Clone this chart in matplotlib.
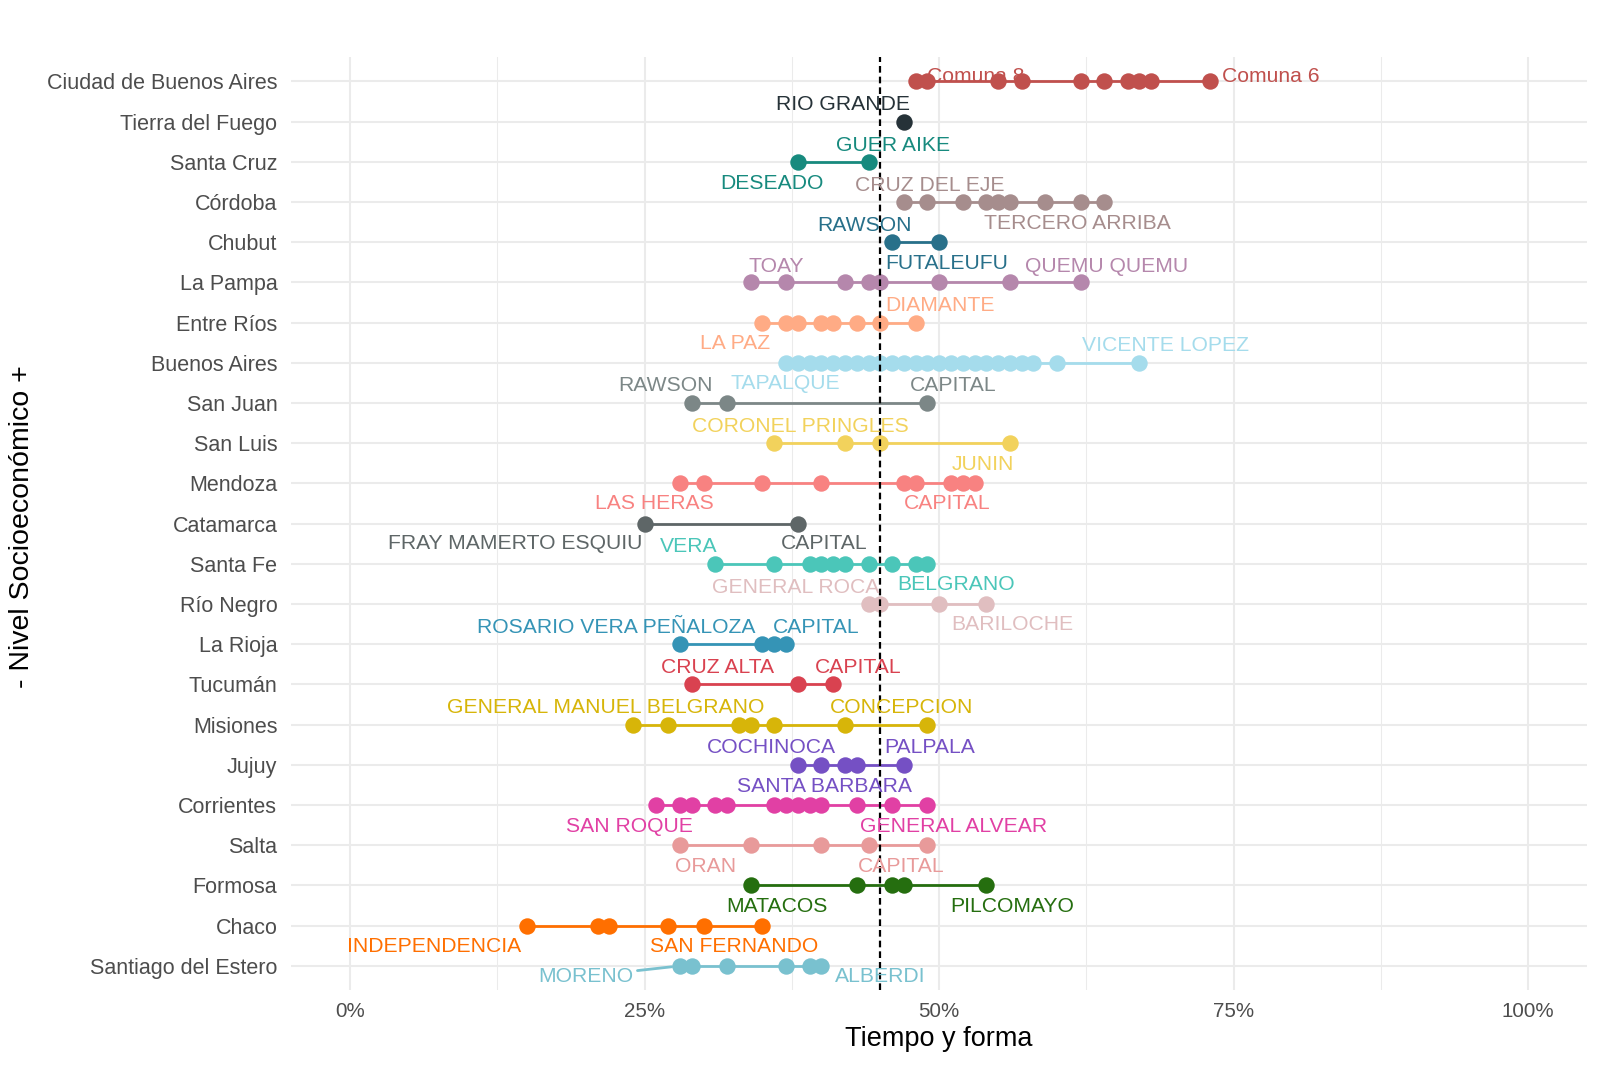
import matplotlib
matplotlib.use("Agg")
import matplotlib.pyplot as plt
from matplotlib.ticker import FixedLocator, PercentFormatter

plt.rcParams['font.family'] = ['Liberation Sans', 'DejaVu Sans']

# provincias, de mayor a menor nivel socioeconomico
provincias = ["Ciudad de Buenos Aires", "Tierra del Fuego", "Santa Cruz", "Córdoba",
              "Chubut", "La Pampa", "Entre Ríos", "Buenos Aires", "San Juan",
              "San Luis", "Mendoza", "Catamarca", "Santa Fe", "Río Negro",
              "La Rioja", "Tucumán", "Misiones", "Jujuy", "Corrientes", "Salta",
              "Formosa", "Chaco", "Santiago del Estero"]

colores = ["#C0504D", "#263238", "#178A7E", "#A68D8D", "#28708A", "#B587AC",
           "#FFAB85", "#A5DCEC", "#7C8787", "#F2D25C", "#F88281", "#5E6667",
           "#4BC6B9", "#E0BEC0", "#3594B6", "#D94250", "#D7B509", "#7550C4",
           "#E140A4", "#E89A9A", "#256E0F", "#FF6F00", "#79C1CF"]

# proporcion "tiempo y forma" por departamento
caba = [0.48, 0.49, 0.55, 0.57, 0.62, 0.64, 0.66, 0.67, 0.68, 0.73]
tierra_del_fuego = [0.47]
santa_cruz = [0.38, 0.44]
cordoba = [0.47, 0.49, 0.52, 0.54, 0.55, 0.56, 0.59, 0.62, 0.64]
chubut = [0.46, 0.50]
la_pampa = [0.34, 0.37, 0.42, 0.44, 0.45, 0.50, 0.56, 0.62]
entre_rios = [0.35, 0.37, 0.38, 0.40, 0.41, 0.43, 0.45, 0.48]
buenos_aires = [0.37, 0.38, 0.39, 0.40, 0.41, 0.42, 0.43, 0.44, 0.45, 0.46, 0.47,
                0.48, 0.49, 0.50, 0.51, 0.52, 0.53, 0.54, 0.55, 0.56, 0.57, 0.58,
                0.60, 0.67]
san_juan = [0.29, 0.32, 0.49]
san_luis = [0.36, 0.42, 0.45, 0.56]
mendoza = [0.28, 0.30, 0.35, 0.40, 0.47, 0.48, 0.51, 0.52, 0.53]
catamarca = [0.25, 0.38]
santa_fe = [0.31, 0.36, 0.39, 0.40, 0.41, 0.42, 0.44, 0.46, 0.48, 0.49]
rio_negro = [0.44, 0.45, 0.50, 0.54]
la_rioja = [0.28, 0.35, 0.36, 0.37]
tucuman = [0.29, 0.38, 0.41]
misiones = [0.24, 0.27, 0.33, 0.34, 0.36, 0.42, 0.49]
jujuy = [0.38, 0.40, 0.42, 0.43, 0.47]
corrientes = [0.26, 0.28, 0.29, 0.31, 0.32, 0.36, 0.37, 0.38, 0.39, 0.40, 0.43,
              0.46, 0.49]
salta = [0.28, 0.34, 0.40, 0.44, 0.49]
formosa = [0.34, 0.43, 0.46, 0.47, 0.54]
chaco = [0.15, 0.21, 0.22, 0.27, 0.30, 0.35]
santiago = [0.28, 0.29, 0.32, 0.37, 0.39, 0.40]

valores = [caba, tierra_del_fuego, santa_cruz, cordoba, chubut, la_pampa,
           entre_rios, buenos_aires, san_juan, san_luis, mendoza, catamarca,
           santa_fe, rio_negro, la_rioja, tucuman, misiones, jujuy, corrientes,
           salta, formosa, chaco, santiago]

promedio = 0.45

# etiquetas de departamentos: texto, provincia, x del texto, desplazamiento vertical
etiquetas = [
    ("Comuna 8", 0, 0.531, -0.18), ("Comuna 6", 0, 0.781, -0.18),
    ("RIO GRANDE", 1, 0.418, -0.47),
    ("GUER AIKE", 2, 0.461, -0.45), ("DESEADO", 2, 0.358, 0.49),
    ("CRUZ DEL EJE", 3, 0.492, -0.46), ("TERCERO ARRIBA", 3, 0.617, 0.48),
    ("RAWSON", 4, 0.437, -0.47), ("FUTALEUFU", 4, 0.506, 0.49),
    ("TOAY", 5, 0.362, -0.45), ("QUEMU QUEMU", 5, 0.642, -0.45),
    ("DIAMANTE", 6, 0.501, -0.47), ("LA PAZ", 6, 0.327, 0.47),
    ("VICENTE LOPEZ", 7, 0.692, -0.48), ("TAPALQUE", 7, 0.369, 0.46),
    ("RAWSON", 8, 0.268, -0.49), ("CAPITAL", 8, 0.512, -0.49),
    ("CORONEL PRINGLES", 9, 0.382, -0.47), ("JUNIN", 9, 0.537, 0.47),
    ("LAS HERAS", 10, 0.258, 0.46), ("CAPITAL", 10, 0.507, 0.46),
    ("FRAY MAMERTO ESQUIU", 11, 0.140, 0.45), ("CAPITAL", 11, 0.402, 0.45),
    ("VERA", 12, 0.287, -0.48), ("BELGRANO", 12, 0.514, 0.46),
    ("GENERAL ROCA", 13, 0.378, -0.46), ("BARILOCHE", 13, 0.562, 0.45),
    ("ROSARIO VERA PEÑALOZA", 14, 0.226, -0.47), ("CAPITAL", 14, 0.396, -0.47),
    ("CRUZ ALTA", 15, 0.312, -0.48), ("CAPITAL", 15, 0.431, -0.48),
    ("GENERAL MANUEL BELGRANO", 16, 0.217, -0.47), ("CONCEPCION", 16, 0.468, -0.47),
    ("COCHINOCA", 17, 0.358, -0.48), ("PALPALA", 17, 0.492, -0.48),
    ("SANTA BARBARA", 17, 0.403, 0.49),
    ("SAN ROQUE", 18, 0.237, 0.48), ("GENERAL ALVEAR", 18, 0.512, 0.48),
    ("ORAN", 19, 0.302, 0.49), ("CAPITAL", 19, 0.468, 0.49),
    ("MATACOS", 20, 0.362, 0.48), ("PILCOMAYO", 20, 0.562, 0.48),
    ("INDEPENDENCIA", 21, 0.071, 0.47), ("SAN FERNANDO", 21, 0.326, 0.47),
    ("ALBERDI", 22, 0.450, 0.21),
]

fig = plt.figure(figsize=(16, 10.66), dpi=100)
ax = fig.add_axes([0.182, 0.0713, 0.810, 0.875])

ax.set_xlim(-0.05, 1.05)
ax.set_ylim(len(provincias) - 0.4, -0.6)

# grilla estilo theme_minimal
ax.xaxis.set_major_locator(FixedLocator([0, 0.25, 0.5, 0.75, 1.0]))
ax.xaxis.set_minor_locator(FixedLocator([0.125, 0.375, 0.625, 0.875]))
ax.xaxis.set_major_formatter(PercentFormatter(1.0, decimals=0))
ax.grid(which='major', color='#EBEBEB', lw=1.5)
ax.grid(which='minor', axis='x', color='#EBEBEB', lw=0.75)
ax.set_axisbelow(True)
for s in ax.spines.values():
    s.set_visible(False)

ax.set_yticks(range(len(provincias)))
ax.set_yticklabels(provincias)
ax.tick_params(axis='both', which='both', length=0, labelcolor='#4D4D4D')
ax.tick_params(axis='y', pad=10, labelsize=15.5)
ax.tick_params(axis='x', pad=9, labelsize=14.8)

for i, (vals, col) in enumerate(zip(valores, colores)):
    ax.plot([min(vals), max(vals)], [i, i], color=col, lw=2, zorder=2,
            solid_capstyle='butt')
    ax.scatter(vals, [i] * len(vals), s=140, color=col, zorder=3,
               linewidths=0)

ax.axvline(promedio, color='black', lw=1.6, ls=(0, (3, 1.8)), zorder=4)

for texto, p, x, dy in etiquetas:
    ax.text(x, p + dy, texto, color=colores[p], fontsize=15.2,
            ha='center', va='center_baseline', zorder=5)

# etiqueta con segmento (ggrepel)
ax.annotate("MORENO", xy=(santiago[0], 22), xytext=(0.200, 22.21),
            color=colores[22], fontsize=15.2, ha='center', va='center_baseline',
            arrowprops=dict(arrowstyle='-', color=colores[22], lw=2,
                            shrinkA=1, shrinkB=6), zorder=5)

fig.text(939 / 1600, 1 - 1039 / 1066, "Tiempo y forma", fontsize=19.5,
         ha='center', va='center')
fig.text(22.5 / 1600, 1 - 527 / 1066, "- Nivel Socioeconómico +", fontsize=20.5,
         ha='center', va='center', rotation=90)

fig.savefig("out.png", dpi=100, facecolor='white')
